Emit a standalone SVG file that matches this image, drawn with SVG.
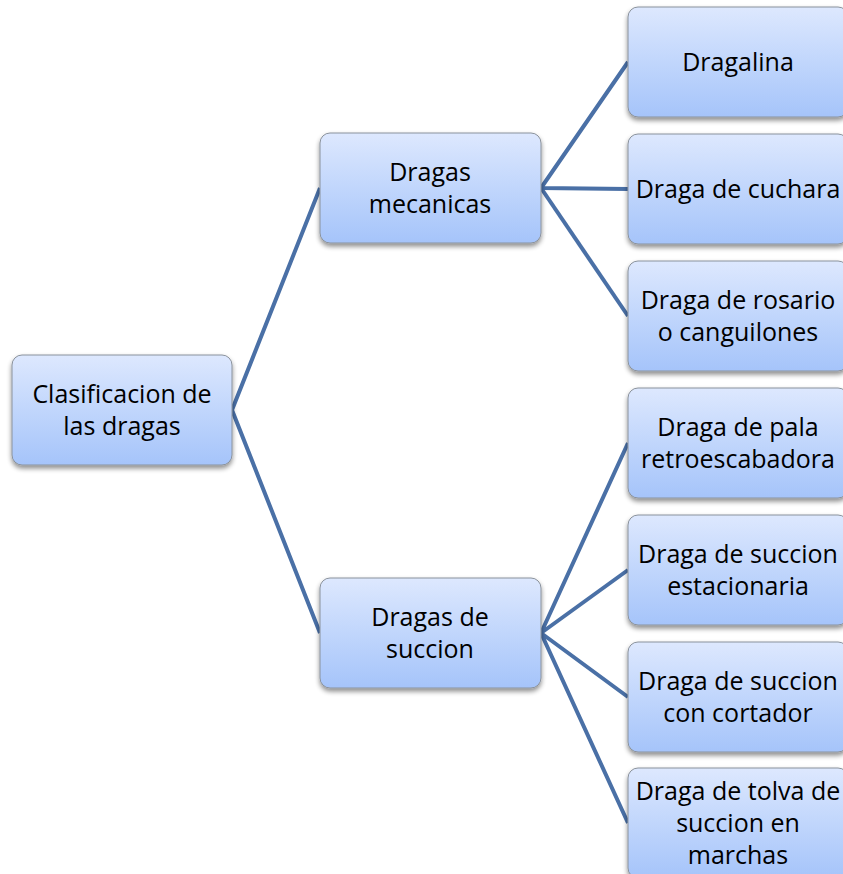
<svg xmlns="http://www.w3.org/2000/svg" width="843" height="874" viewBox="0 0 843 874">
<defs>
<linearGradient id="g" x1="0" y1="0" x2="0" y2="1">
<stop offset="0" stop-color="#dde8fe"/>
<stop offset="1" stop-color="#a5c4fa"/>
</linearGradient>
<filter id="sh" x="-10%" y="-10%" width="120%" height="130%">
<feGaussianBlur in="SourceAlpha" stdDeviation="2.5"/>
<feOffset dx="0" dy="3" result="b"/>
<feComponentTransfer><feFuncA type="linear" slope="0.45"/></feComponentTransfer>
<feMerge><feMergeNode/><feMergeNode in="SourceGraphic"/></feMerge>
</filter>
</defs>
<style>
.box{fill:url(#g);stroke:#8a929c;stroke-width:1;filter:url(#sh)}
.t{font-family:"Open Sans","Liberation Sans",sans-serif;font-size:25px;fill:#000;text-anchor:middle}
.c{fill:none;stroke:#4a70a6;stroke-width:4;stroke-linejoin:round}
</style>
<rect width="843" height="874" fill="#fff"/>
<g id="connectors">
<polyline class="c" points="320,188 232,410 320,633"/>
<polyline class="c" points="628,62 541,188 628,189"/>
<line class="c" x1="541" y1="188" x2="628" y2="316"/>
<polyline class="c" points="628,443 541,633 628,570"/>
<polyline class="c" points="628,697 541,633 628,823"/>
</g>
<g id="root"><rect class="box" x="12" y="355" width="220" height="110" rx="10"/>
<text class="t" x="122" y="403">Clasificacion de</text><text class="t" x="122" y="435">las dragas</text></g>
<g id="mecanicas"><rect class="box" x="320" y="133" width="221" height="110" rx="10"/>
<text class="t" x="430" y="181">Dragas</text><text class="t" x="430" y="213">mecanicas</text></g>
<g id="succion"><rect class="box" x="320" y="578" width="221" height="110" rx="10"/>
<text class="t" x="430" y="626">Dragas de</text><text class="t" x="430" y="658">succion</text></g>
<g id="dragalina"><rect class="box" x="628" y="7" width="220" height="110" rx="10"/>
<text class="t" x="738" y="71">Dragalina</text></g>
<g id="cuchara"><rect class="box" x="628" y="134" width="220" height="110" rx="10"/>
<text class="t" x="738" y="198">Draga de cuchara</text></g>
<g id="rosario"><rect class="box" x="628" y="261" width="220" height="110" rx="10"/>
<text class="t" x="738" y="309">Draga de rosario</text><text class="t" x="738" y="341">o canguilones</text></g>
<g id="pala"><rect class="box" x="628" y="388" width="220" height="110" rx="10"/>
<text class="t" x="738" y="436">Draga de pala</text><text class="t" x="738" y="468">retroescabadora</text></g>
<g id="estacionaria"><rect class="box" x="628" y="515" width="220" height="110" rx="10"/>
<text class="t" x="738" y="563">Draga de succion</text><text class="t" x="738" y="595">estacionaria</text></g>
<g id="cortador"><rect class="box" x="628" y="642" width="220" height="110" rx="10"/>
<text class="t" x="738" y="690">Draga de succion</text><text class="t" x="738" y="722">con cortador</text></g>
<g id="tolva"><rect class="box" x="628" y="768" width="220" height="110" rx="10"/>
<text class="t" x="738" y="800">Draga de tolva de</text><text class="t" x="738" y="832">succion en</text><text class="t" x="738" y="864">marchas</text></g>
</svg>
